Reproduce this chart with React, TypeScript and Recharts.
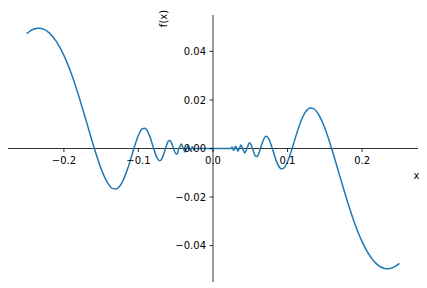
import { LineChart, Line, XAxis, YAxis, ReferenceLine } from "recharts";

// x values, left to right
const xs = [
  -0.25, -0.245, -0.24, -0.235, -0.23, -0.22, -0.21, -0.2, -0.19, -0.18, -0.17, -0.16, -0.15, -0.14,
  -0.135, -0.13, -0.125, -0.12, -0.115, -0.11, -0.105, -0.1, -0.095, -0.0915, -0.09, -0.085, -0.08,
  -0.075, -0.0715, -0.07, -0.065, -0.0628, -0.06, -0.0578, -0.055, -0.0531, -0.049, -0.0455, -0.0425,
  -0.0398, -0.0375, -0.0354, -0.0335, -0.0318, -0.0303, -0.0289, -0.0277, -0.0265, -0.0255, -0.0245,
  0,
  0.0245, 0.0255, 0.0265, 0.0277, 0.0289, 0.0303, 0.0318, 0.0335, 0.0354, 0.0375, 0.0398, 0.0425,
  0.0455, 0.049, 0.0531, 0.055, 0.0578, 0.06, 0.0628, 0.065, 0.07, 0.0715, 0.075, 0.08, 0.085, 0.09,
  0.0915, 0.095, 0.1, 0.105, 0.11, 0.115, 0.12, 0.125, 0.13, 0.135, 0.14, 0.15, 0.16, 0.17, 0.18,
  0.19, 0.2, 0.21, 0.22, 0.23, 0.235, 0.24, 0.245, 0.25,
];

// f(x)
const fx = [
  0.0473, 0.04848, 0.04924, 0.04955, 0.04942, 0.04774, 0.04404, 0.03836, 0.03076, 0.02152, 0.01127,
  0.00085, -0.00842, -0.01485, -0.01644, -0.01668, -0.01546, -0.01278, -0.0088, -0.00397, 0.00109,
  0.00544, 0.00805, 0.00835, 0.00805, 0.00519, 0.00042, -0.0039, -0.00505, -0.00485, -0.00134,
  0.00085, 0.00295, 0.00334, 0.00187, 0, -0.0024, 0, 0.00181, 0, -0.00141, 0, 0.00112, 0, -0.00092,
  0, 0.00077, 0, -0.00065, 0,
  0,
  0, 0.00065, 0, -0.00077, 0, 0.00092, 0, -0.00112, 0, 0.00141, 0, -0.00181, 0, 0.0024, 0, -0.00187,
  -0.00334, -0.00295, -0.00085, 0.00134, 0.00485, 0.00505, 0.0039, -0.00042, -0.00519, -0.00805,
  -0.00835, -0.00805, -0.00544, -0.00109, 0.00397, 0.0088, 0.01278, 0.01546, 0.01668, 0.01644,
  0.01485, 0.00842, -0.00085, -0.01127, -0.02152, -0.03076, -0.03836, -0.04404, -0.04774, -0.04942,
  -0.04955, -0.04924, -0.04848, -0.0473,
];

const xTicks = [-0.2, -0.1, 0, 0.1, 0.2];
const xTickLabels = ["\u22120.2", "\u22120.1", "0.0", "0.1", "0.2"];
const yTicks = [-0.04, -0.02, 0, 0.02, 0.04];
const yTickLabels = ["\u22120.04", "\u22120.02", "0.00", "0.02", "0.04"];

const W = 427;
const H = 288;
const M = { top: 15, right: 9, bottom: 5, left: 7 };
const PLOT_LEFT = M.left + 1; // y axis takes 1px
const PLOT_W = W - PLOT_LEFT - M.right;
const PLOT_H = H - M.top - M.bottom - 1; // x axis takes 1px
const ZERO_X = PLOT_LEFT + PLOT_W / 2;
const ZERO_Y = M.top + PLOT_H / 2;
const FONT = "DejaVu Sans, sans-serif";

const data = xs.map((x, i) => ({ x, y: fx[i] }));

function renderXTick(props: any) {
  const { x, payload } = props;
  const i = xTicks.indexOf(payload.value);
  return (
    <g key={`xt-${i}`}>
      <line x1={x} x2={x} y1={ZERO_Y} y2={ZERO_Y + 3.5} stroke="#000" strokeWidth={0.8} />
      <text x={x} y={ZERO_Y + 15.5} textAnchor="middle" fontSize={10} fontFamily={FONT} fill="#000">
        {xTickLabels[i] ?? payload.value}
      </text>
    </g>
  );
}

function renderYTick(props: any) {
  const { y, payload } = props;
  const i = yTicks.indexOf(payload.value);
  return (
    <g key={`yt-${i}`}>
      <line x1={ZERO_X - 3.5} x2={ZERO_X} y1={y} y2={y} stroke="#000" strokeWidth={0.8} />
      <text x={ZERO_X - 7} y={y + 3.6} textAnchor="end" fontSize={10} fontFamily={FONT} fill="#000">
        {yTickLabels[i] ?? payload.value}
      </text>
    </g>
  );
}

export default function App() {
  return (
    <div style={{ position: "absolute", left: 0, top: 0, width: W, height: H, background: "#fff" }}>
      <LineChart width={W} height={H} data={data} margin={M}>
        <XAxis
          dataKey="x"
          type="number"
          domain={[-0.275, 0.275]}
          ticks={xTicks}
          height={1}
          axisLine={false}
          tickLine={false}
          tick={renderXTick}
          interval={0}
          allowDataOverflow
        />
        <YAxis
          type="number"
          domain={[-0.055, 0.055]}
          ticks={yTicks}
          width={1}
          axisLine={false}
          tickLine={false}
          tick={renderYTick}
          interval={0}
          allowDataOverflow
        />
        <ReferenceLine y={0} stroke="#000" strokeWidth={0.8} />
        <ReferenceLine x={0} stroke="#000" strokeWidth={0.8} />
        <Line
          type="monotone"
          dataKey="y"
          stroke="#1f77b4"
          strokeWidth={1.5}
          dot={false}
          isAnimationActive={false}
        />
      </LineChart>
      <svg
        width={W}
        height={H}
        style={{ position: "absolute", left: 0, top: 0, pointerEvents: "none" }}
      >
        <text x={416.5} y={178.5} textAnchor="middle" fontSize={10} fontFamily={FONT} fill="#000">
          x
        </text>
        <text
          x={163.5}
          y={18.5}
          transform="rotate(-90 163.5 18.5)"
          textAnchor="middle"
          dominantBaseline="central"
          fontSize={10}
          fontFamily={FONT}
          fill="#000"
        >
          f(x)
        </text>
      </svg>
    </div>
  );
}
